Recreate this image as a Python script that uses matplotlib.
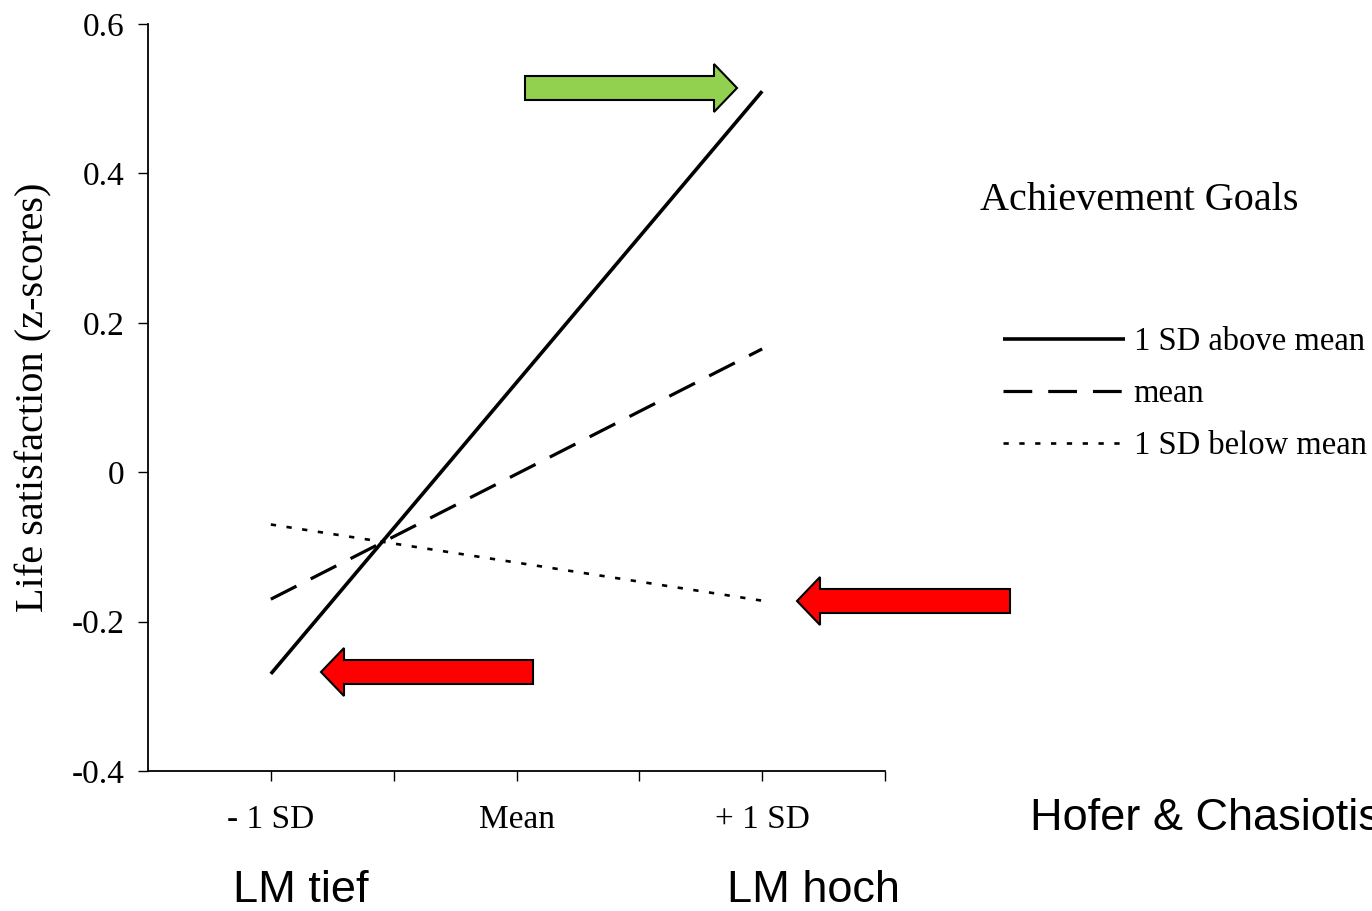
import matplotlib
matplotlib.use("Agg")
import matplotlib.pyplot as plt
from matplotlib.patches import FancyArrow

# ---- data ----
x_positions = [1, 5]
above_mean = [-0.27, 0.51]
mean_vals = [-0.17, 0.165]
below_mean = [-0.07, -0.172]
series_labels = ["1 SD above mean", "mean", "1 SD below mean"]
xtick_pos = [1, 3, 5]
xtick_labels = ["- 1 SD", "Mean", "+ 1 SD"]
ytick_vals = [-0.4, -0.2, 0, 0.2, 0.4, 0.6]
ytick_labels = ["-0.4", "-0.2", "0", "0.2", "0.4", "0.6"]

W, H = 1372, 911
fig = plt.figure(figsize=(W / 100, H / 100), dpi=100)
ax = fig.add_axes([148 / W, 1 - 771 / H, (885 - 148) / W, (771 - 24) / H])

serif = "Liberation Serif"
sans = "Liberation Sans"

l1, = ax.plot(x_positions, above_mean, color="black", lw=2.6, solid_capstyle="butt")
l2, = ax.plot(x_positions, mean_vals, color="black", lw=2.3, dashes=(9, 5))
l3, = ax.plot(x_positions, below_mean, color="black", lw=1.9, dashes=(2, 4))

ax.set_xlim(0, 6)
ax.set_ylim(-0.4, 0.6)
ax.set_xticks([1, 2, 3, 4, 5, 6])
ax.set_xticklabels([xtick_labels[xtick_pos.index(t)] if t in xtick_pos else "" for t in [1, 2, 3, 4, 5, 6]])
ax.set_yticks(ytick_vals)
ax.set_yticklabels(ytick_labels)
for s in ["top", "right"]:
    ax.spines[s].set_visible(False)
for s in ["left", "bottom"]:
    ax.spines[s].set_linewidth(1.3)
ax.tick_params(axis="x", direction="out", length=7, width=1, pad=17, labelsize=24)
ax.tick_params(axis="y", direction="out", length=7, width=1, pad=10, labelsize=24)
for lab in ax.get_xticklabels() + ax.get_yticklabels():
    lab.set_family(serif)

ax.set_ylabel("Life satisfaction (z-scores)", family=serif, fontsize=29, labelpad=14)

# legend
fig.text(980 / W, 1 - 201 / H, "Achievement Goals", family=serif, fontsize=29,
         ha="left", va="center")
leg = fig.legend([l1, l2, l3], series_labels, loc="upper left",
                 bbox_to_anchor=(1003 / W, 1 - 327 / H), frameon=False,
                 borderpad=0, borderaxespad=0, handlelength=3.75,
                 handletextpad=0.25, labelspacing=0.65,
                 prop={"family": serif, "size": 23.5})

# annotation texts (the citation runs off the right edge, as in the original)
fig.text(301 / W, 1 - 891 / H, "LM tief", family=sans, fontsize=32.5, ha="center", va="center")
fig.text(813 / W, 1 - 891 / H, "LM hoch", family=sans, fontsize=32.5, ha="center", va="center")
fig.text(1030 / W, 1 - 818 / H, "Hofer & Chasiotis", family=sans, fontsize=32.5, ha="left", va="center")

# arrows (pixel specs: start x, end x (tip), center y, colour)
arrows = [
    (525, 737, 88, "#92D050"),
    (1010, 797, 601, "#FF0000"),
    (533, 321, 672, "#FF0000"),
]
for x0, x1, yc, col in arrows:
    a = FancyArrow(x0 / W, 1 - yc / H, (x1 - x0) / W, 0,
                   width=24 / H, head_width=48 / H, head_length=23 / W,
                   length_includes_head=True, transform=fig.transFigure,
                   facecolor=col, edgecolor="black", lw=1.5, clip_on=False)
    fig.add_artist(a)

fig.savefig("out.png", dpi=100)
